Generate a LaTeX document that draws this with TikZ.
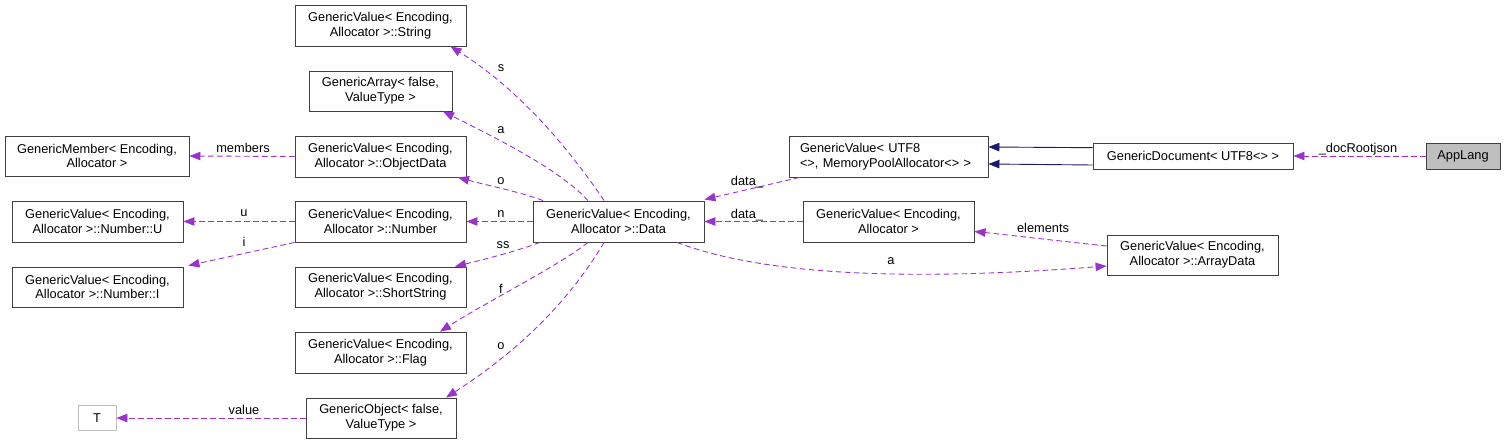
\documentclass[tikz,border=0pt]{standalone}
\usepackage{fontspec}
\setmainfont{Liberation Sans}
\usetikzlibrary{arrows.meta,calc}
\definecolor{depc}{HTML}{9A32CD}
\definecolor{navyc}{HTML}{191970}
\newcommand{\dfont}{\fontsize{12.8bp}{14.8bp}\selectfont}
\tikzset{
  box/.style={draw=black!75, line width=0.9bp, inner sep=0pt, align=center, font=\dfont},
  dep/.style={draw=depc, dash pattern=on 5.5bp off 3.5bp, line width=0.9bp, -{Triangle[length=11bp,width=8.5bp,fill=depc]}},
  inh/.style={draw=navyc, line width=0.9bp, -{Triangle[length=11bp,width=8.5bp,fill=navyc]}},
  lbl/.style={inner sep=0pt, font=\dfont}
}
\begin{document}
\begin{tikzpicture}[x=1bp,y=-1bp]
\useasboundingbox (0,0) rectangle (1505,444);
% nodes
\node[box, minimum width=171bp, minimum height=41bp] (string) at (380.5,25.5) {GenericValue< Encoding,\\ Allocator >::String};
\node[box, minimum width=143bp, minimum height=40bp] (genarray) at (380.5,91) {GenericArray< false,\\ ValueType >};
\node[box, minimum width=184bp, minimum height=40bp] (genmember) at (97,156) {GenericMember< Encoding,\\ Allocator >};
\node[box, minimum width=171bp, minimum height=41bp] (objectdata) at (380.5,156.5) {GenericValue< Encoding,\\ Allocator >::ObjectData};
\node[box, minimum width=171bp, minimum height=41bp] (numu) at (97.5,221.5) {GenericValue< Encoding,\\ Allocator >::Number::U};
\node[box, minimum width=171bp, minimum height=41bp] (number) at (380.5,221.5) {GenericValue< Encoding,\\ Allocator >::Number};
\node[box, minimum width=171bp, minimum height=40bp] (numi) at (97.5,287) {GenericValue< Encoding,\\ Allocator >::Number::I};
\node[box, minimum width=171bp, minimum height=40bp] (shortstring) at (380.5,287) {GenericValue< Encoding,\\ Allocator >::ShortString};
\node[box, minimum width=171bp, minimum height=41bp] (flag) at (380.5,352.5) {GenericValue< Encoding,\\ Allocator >::Flag};
\node[box, draw=black!25, minimum width=38bp, minimum height=25bp] (T) at (97,418) {T};
\node[box, minimum width=150bp, minimum height=40bp] (genobject) at (381,418) {GenericObject< false,\\ ValueType >};
\node[box, minimum width=171bp, minimum height=41bp] (data) at (618.5,221.5) {GenericValue< Encoding,\\ Allocator >::Data};
\node[box, align=left, minimum width=199bp, minimum height=41bp, text width=177bp] (utf8) at (888.5,156.5) {GenericValue< UTF8\\<>, MemoryPoolAllocator<> >};
\node[box, minimum width=171bp, minimum height=41bp] (gvea) at (888.5,221.5) {GenericValue< Encoding,\\ Allocator >};
\node[box, minimum width=200bp, minimum height=26bp] (gendoc) at (1193,156) {GenericDocument< UTF8<> >};
\node[box, fill=black!25, minimum width=74bp, minimum height=26bp] (applang) at (1463,156) {AppLang};
\node[box, minimum width=171bp, minimum height=40bp] (arraydata) at (1192.5,255) {GenericValue< Encoding,\\ Allocator >::ArrayData};
% connectors
\draw[dep] ($(data.north)+(-14.5,0)$) .. controls (570,150) and (520,90) .. ($(string.south)+(70,0)$);
\draw[dep] ($(data.north)+(-30.5,0)$) .. controls (560,170) and (500,140) .. ($(genarray.south)+(62.5,0)$);
\draw[dep] ($(data.north)+(-75.5,0)$) .. controls (520,192) and (490,186) .. ($(objectdata.south)+(77.5,0)$);
\draw[dep] (data.west) -- (number.east);
\draw[dep] ($(data.south)+(-78.5,0)$) .. controls (520,250) and (490,258) .. ($(shortstring.north)+(74.5,0)$);
\draw[dep] ($(data.south)+(-30.5,0)$) .. controls (560,265) and (490,300) .. ($(flag.north)+(59.5,0)$);
\draw[dep] ($(data.south)+(-14.5,0)$) .. controls (570,300) and (520,350) .. ($(genobject.north)+(65,0)$);
\draw[dep] (objectdata.west) -- (genmember.east);
\draw[dep] (number.west) -- (numu.east);
\draw[dep] (number.south west) -- ($(numi.north east)+(5,-1)$);
\draw[dep] (genobject.west) -- (T.east);
\draw[dep] ($(utf8.south west)+(11,0)$) -- ($(data.north east)+(0,-1)$);
\draw[dep] (gvea.west) -- (data.east);
\draw[dep] ($(arraydata.west)+(0,-9)$) .. controls (1050,240) and (1000,234) .. ($(gvea.east)+(0,10)$);
\draw[dep] ($(data.south)+(58.5,0)$) .. controls (760,274) and (900,282) .. ($(arraydata.west)+(0,11)$);
\draw[inh] ($(gendoc.west)+(0,-8.3)$) -- ($(utf8.east)+(0,-9.5)$);
\draw[inh] ($(gendoc.west)+(0,9)$) -- ($(utf8.east)+(0,7.5)$);
\draw[dep] (applang.west) -- (gendoc.east);
% labels
\node[lbl] (ls) at (501,68) {s};
\node[lbl] (la) at (501,130) {a};
\node[lbl] (lo) at (501,181) {o};
\node[lbl] (ln) at (501,214) {n};
\node[lbl] (lss) at (503,245) {ss};
\node[lbl] (lf) at (501,289) {f};
\node[lbl] (lo2) at (501,346) {o};
\node[lbl] (lmembers) at (243,148) {members};
\node[lbl] (lu) at (244,213) {u};
\node[lbl] (li) at (244,242) {i};
\node[lbl] (lvalue) at (244,410) {value};
\node[lbl] (ldata1) at (747,182) {data\_};
\node[lbl] (ldata2) at (747,215) {data\_};
\node[lbl] (lelements) at (1043,228) {elements};
\node[lbl] (la2) at (891,261) {a};
\node[lbl] (ldoc) at (1358,149) {\_docRootjson};
\end{tikzpicture}
\end{document}
